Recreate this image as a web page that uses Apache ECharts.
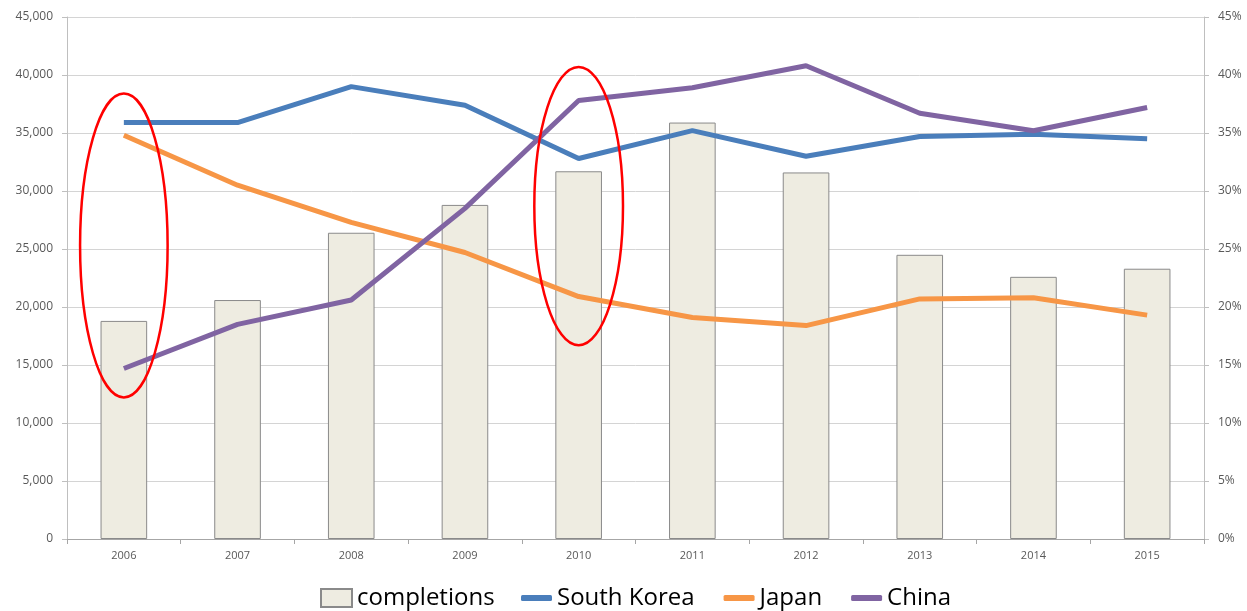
<!DOCTYPE html>
<html>
<head>
<meta charset="utf-8">
<script src="https://cdn.jsdelivr.net/npm/echarts@6/dist/echarts.min.js"></script>
<style>
  html, body { margin: 0; padding: 0; background: #ffffff; }
  #chart { width: 1247px; height: 611px; }
</style>
</head>
<body>
<div id="chart"></div>
<script>
// Years on the category axis
const years = ['2006', '2007', '2008', '2009', '2010', '2011', '2012', '2013', '2014', '2015'];

// Total completions per year (left axis)
const completions = [18800, 20600, 26400, 28800, 31700, 35900, 31600, 24500, 22600, 23300];

// Share of completions by country, percent (right axis)
const southKorea = [35.9, 35.9, 39.0, 37.4, 32.8, 35.2, 33.0, 34.7, 34.9, 34.5];
const japan      = [34.8, 30.5, 27.3, 24.7, 20.9, 19.1, 18.4, 20.7, 20.8, 19.3];
const china      = [14.7, 18.5, 20.6, 28.5, 37.8, 38.9, 40.8, 36.7, 35.2, 37.2];

// Highlighted years: ellipse centre and half-height in left-axis units
const highlightYears   = ['2006', '2010'];
const highlightCenters = [25300, 28700];
const highlightHalfH   = [13100, 12000];
const highlightHalfW   = [0.385, 0.39];   // fraction of one category band

const axisText = { color: '#595959', fontFamily: 'Open Sans', fontSize: 12 };
const legendText = { color: '#000000', fontFamily: 'Open Sans', fontSize: 24 };

const chart = echarts.init(document.getElementById('chart'), null, { renderer: 'canvas' });

chart.setOption({
  animation: false,
  backgroundColor: '#ffffff',
  grid: { left: 67, right: 43, top: 17, bottom: 72 },
  legend: [
    {
      // bar entry: boxed swatch
      top: 586,
      left: 320,
      padding: 0,
      itemWidth: 31,
      itemHeight: 18,
      textStyle: legendText,
      data: [{ name: 'completions', icon: 'rect' }]
    },
    {
      // line entries: short thick strokes
      top: 586,
      left: 521,
      padding: 0,
      itemGap: 29,
      itemWidth: 31,
      itemHeight: 6,
      icon: 'roundRect',
      textStyle: legendText,
      data: ['South Korea', 'Japan', 'China']
    }
  ],
  xAxis: {
    type: 'category',
    data: years,
    boundaryGap: true,
    axisLine: { lineStyle: { color: '#a6a6a6', width: 1 } },
    axisTick: { show: true, alignWithLabel: false, length: 5, lineStyle: { color: '#a6a6a6' } },
    axisLabel: Object.assign({}, axisText, { margin: 11, fontSize: 11 })
  },
  yAxis: [
    {
      type: 'value',
      min: 0, max: 45000, interval: 5000,
      axisLine: { show: true, lineStyle: { color: '#bfbfbf' } },
      axisTick: { show: true, length: 5, lineStyle: { color: '#bfbfbf' } },
      splitLine: { lineStyle: { color: '#d4d4d4', width: 1 } },
      axisLabel: Object.assign({
        margin: 14,
        formatter: v => v.toLocaleString('en-US')
      }, axisText)
    },
    {
      type: 'value',
      min: 0, max: 45, interval: 5,
      position: 'right',
      axisLine: { show: true, lineStyle: { color: '#bfbfbf' } },
      axisTick: { show: true, length: 5, lineStyle: { color: '#bfbfbf' } },
      splitLine: { show: false },
      axisLabel: Object.assign({ margin: 14, formatter: '{value}%' }, axisText)
    }
  ],
  series: [
    {
      name: 'completions',
      type: 'bar',
      yAxisIndex: 0,
      data: completions,
      barWidth: '41%',
      itemStyle: { color: '#eeece1', borderColor: '#8a8a8a', borderWidth: 1 },
      z: 2
    },
    {
      name: 'South Korea',
      type: 'line',
      yAxisIndex: 1,
      data: southKorea,
      symbol: 'none',
      color: '#4a7ebb',
      lineStyle: { color: '#4a7ebb', width: 5 },
      z: 3
    },
    {
      name: 'Japan',
      type: 'line',
      yAxisIndex: 1,
      data: japan,
      symbol: 'none',
      color: '#f79646',
      lineStyle: { color: '#f79646', width: 5 },
      z: 3
    },
    {
      name: 'China',
      type: 'line',
      yAxisIndex: 1,
      data: china,
      symbol: 'none',
      color: '#8064a2',
      lineStyle: { color: '#8064a2', width: 5 },
      z: 4
    }
  ]
});

// Red ellipses around the highlighted years, placed through the axes
function drawHighlights() {
  const band = chart.convertToPixel({ xAxisIndex: 0 }, years[1]) -
               chart.convertToPixel({ xAxisIndex: 0 }, years[0]);
  const elements = highlightYears.map((yr, i) => {
    const cx = chart.convertToPixel({ xAxisIndex: 0 }, yr);
    const cy = chart.convertToPixel({ yAxisIndex: 0 }, highlightCenters[i]);
    const top = chart.convertToPixel({ yAxisIndex: 0 }, highlightCenters[i] + highlightHalfH[i]);
    return {
      type: 'ellipse',
      silent: true,
      z: 100,
      shape: { cx: cx, cy: cy, rx: band * highlightHalfW[i], ry: cy - top },
      style: { fill: null, stroke: '#ff0000', lineWidth: 2.5 }
    };
  });
  chart.setOption({ graphic: elements });
}
drawHighlights();
</script>
</body>
</html>
